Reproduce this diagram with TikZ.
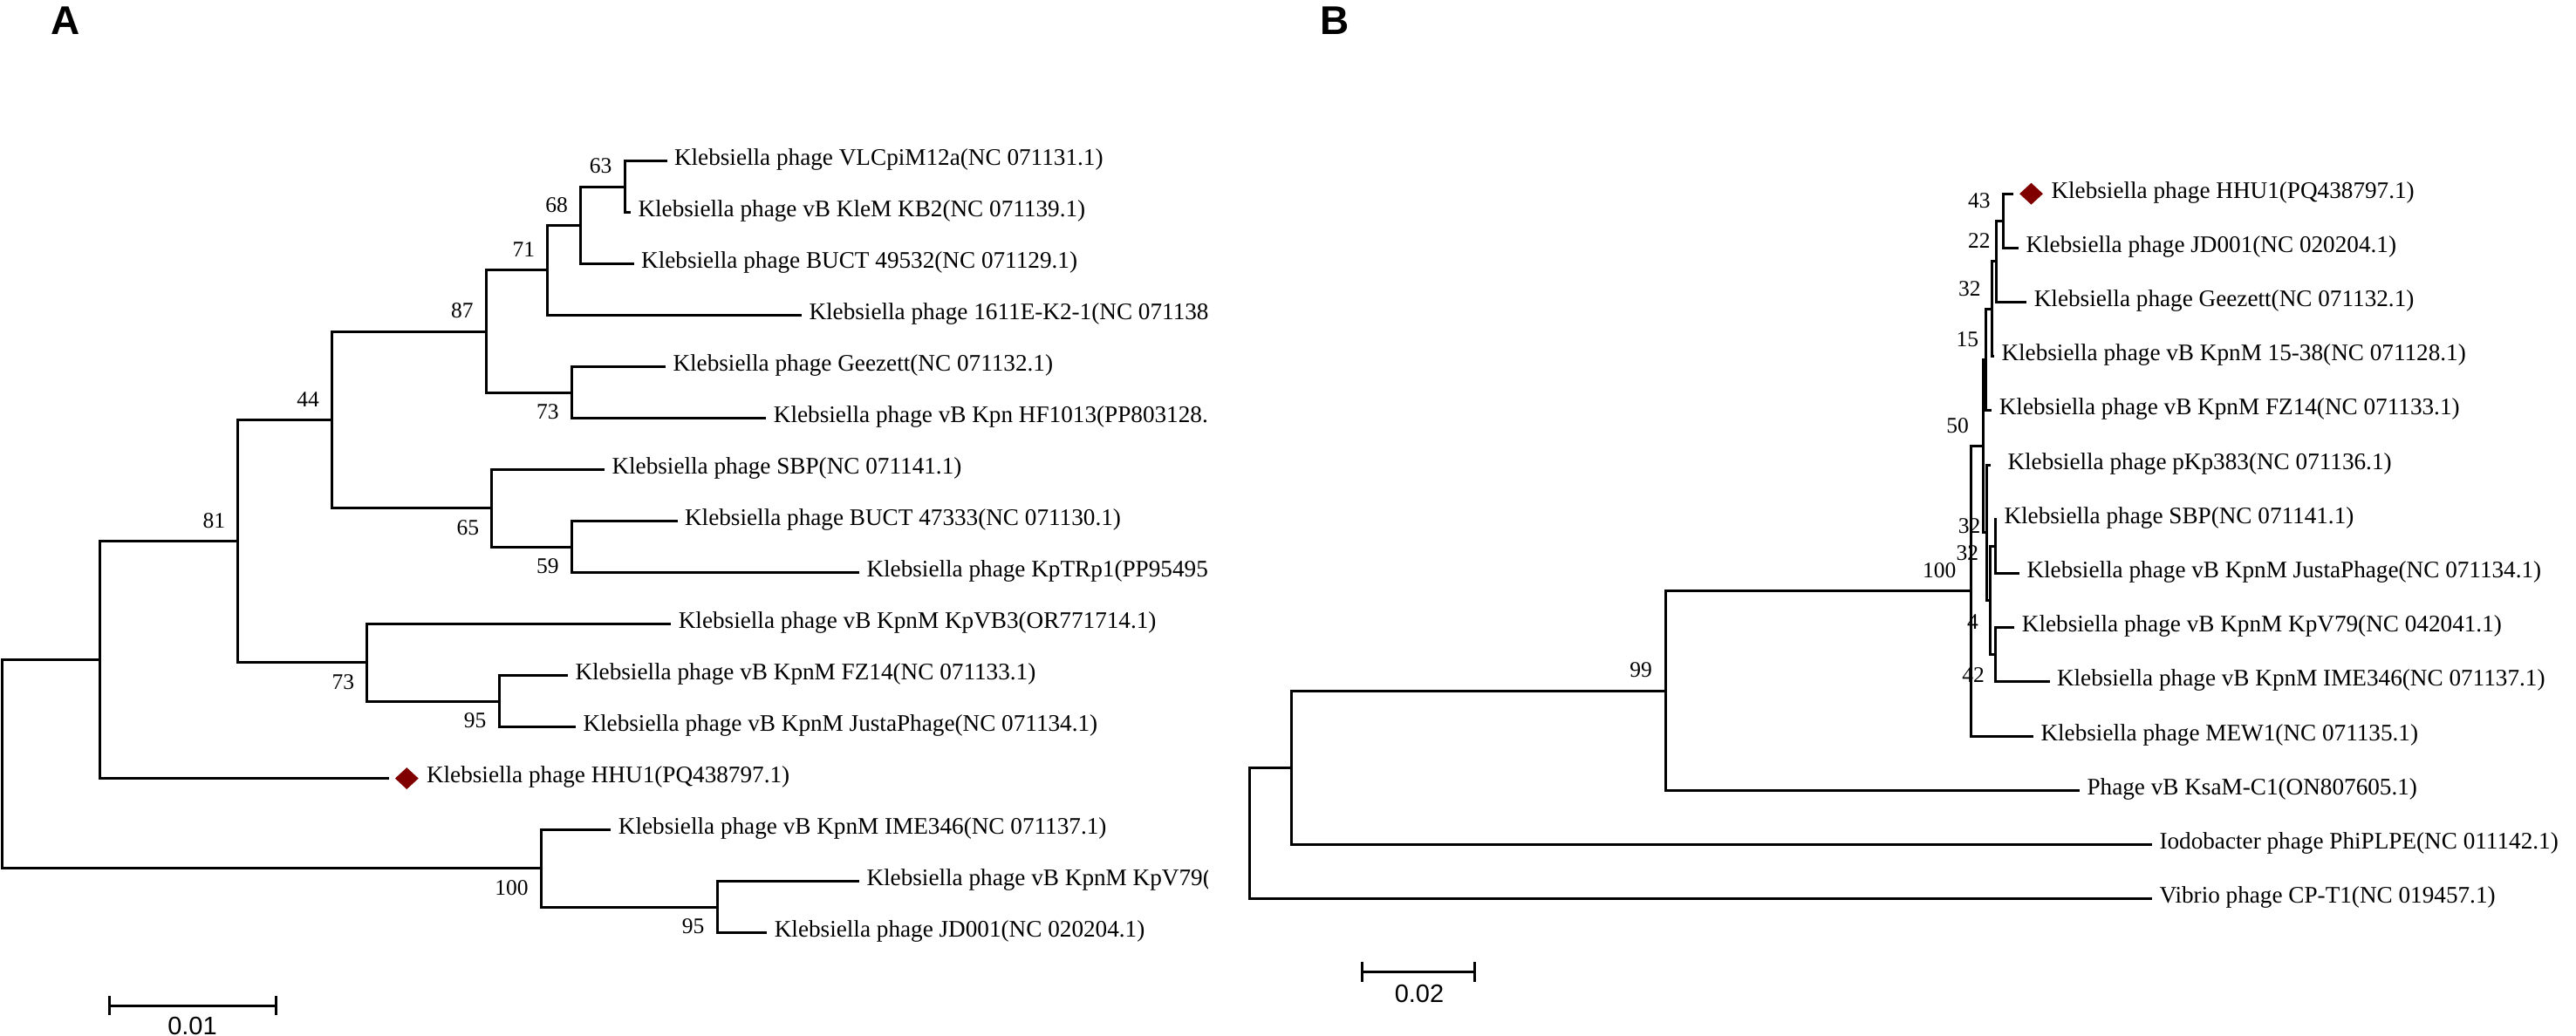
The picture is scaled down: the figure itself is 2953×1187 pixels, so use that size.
\documentclass[tikz,border=0pt]{standalone}
\usepackage{fontspec}
\setmainfont{Liberation Serif}
\newfontfamily\sansf{Liberation Sans}
\usetikzlibrary{shapes.geometric}
\definecolor{hhured}{RGB}{128,0,0}
\newcommand{\clade}[3]{\draw[br] (#2) -| (#1) |- (#3);}
\tikzset{
  br/.style={line width=3pt, line join=miter, line cap=butt},
  leaf/.style={anchor=base west, inner sep=0pt, xshift=8.3pt, yshift=-5pt, font=\fontsize{27.2}{30}\selectfont},
  boot/.style={anchor=east, inner sep=0pt, font=\fontsize{25.5}{28}\selectfont},
  bu/.style={boot, xshift=-14.5pt, yshift=23.5pt},
  bd/.style={boot, xshift=-14.5pt, yshift=-22.5pt},
  panel/.style={inner sep=0pt, font=\sansf\bfseries\fontsize{46}{50}\selectfont},
  scl/.style={inner sep=0pt, font=\sansf\fontsize{29}{32}\selectfont},
  hhu/.style={diamond, fill=hhured, inner sep=0pt, minimum width=27pt, minimum height=25pt},
}
\begin{document}
\begin{tikzpicture}[x=1pt,y=-1pt]
\useasboundingbox (0,0) rectangle (2953,1187);
% ---------------- Panel A ----------------
\node[panel] (labA) at (75,23.5) {A};
\coordinate (a0) at (764.5,184.6);
\coordinate (a1) at (723,243.6);
\coordinate (a2) at (726.7,302.6);
\coordinate (a3) at (919,361.6);
\coordinate (a4) at (763,420.6);
\coordinate (a5) at (878.4,479.6);
\coordinate (a6) at (693,538.6);
\coordinate (a7) at (776.6,597.6);
\coordinate (a8) at (985,656.6);
\coordinate (a9) at (769.3,715.6);
\coordinate (a10) at (651,774.6);
\coordinate (a11) at (660,833.6);
\coordinate (a12) at (446,892.6);
\coordinate (a13) at (700.4,951.6);
\coordinate (a14) at (985,1010.6);
\coordinate (a15) at (879.3,1069.6);
\coordinate (A63) at (716,214.1);
\coordinate (A68) at (665.5,258.35);
\coordinate (A71) at (627.7,309.98);
\coordinate (A73a) at (655.3,450.1);
\coordinate (A87) at (557.4,380.04);
\coordinate (A59) at (655.3,627.1);
\coordinate (A65) at (563.7,582.85);
\coordinate (A44) at (380.5,481.45);
\coordinate (A95a) at (572,804.1);
\coordinate (A73b) at (420.7,759.85);
\coordinate (A81) at (272.9,620.65);
\coordinate (Ain) at (114.9,756.6);
\coordinate (A95b) at (822,1040.1);
\coordinate (A100) at (620.4,995.85);
\coordinate (Aroot) at (2.5,876.2);
\clade{A63}{a0}{a1}
\clade{A68}{A63}{a2}
\clade{A71}{A68}{a3}
\clade{A73a}{a4}{a5}
\clade{A87}{A71}{A73a}
\clade{A59}{a7}{a8}
\clade{A65}{a6}{A59}
\clade{A44}{A87}{A65}
\clade{A95a}{a10}{a11}
\clade{A73b}{a9}{A95a}
\clade{A81}{A44}{A73b}
\clade{Ain}{A81}{a12}
\clade{A95b}{a14}{a15}
\clade{A100}{a13}{A95b}
\clade{Aroot}{Ain}{A100}
\node[bu] (bA63) at (A63) {63};
\node[bu] (bA68) at (A68) {68};
\node[bu] (bA71) at (A71) {71};
\node[bu] (bA87) at (A87) {87};
\node[bd] (bA73a) at (A73a) {73};
\node[bu] (bA44) at (A44) {44};
\node[bd] (bA65) at (A65) {65};
\node[bd] (bA59) at (A59) {59};
\node[bu] (bA81) at (A81) {81};
\node[bd] (bA73b) at (A73b) {73};
\node[bd] (bA95a) at (A95a) {95};
\node[bd] (bA100) at (A100) {100};
\node[bd] (bA95b) at (A95b) {95};
\node[hhu] (dA) at (466.3,892.6) {};
\begin{scope}
\clip (0,0) rectangle (1384,1187);
\node[leaf] (ta0) at (a0) {Klebsiella phage VLCpiM12a(NC 071131.1)};
\node[leaf] (ta1) at (a1) {Klebsiella phage vB KleM KB2(NC 071139.1)};
\node[leaf] (ta2) at (a2) {Klebsiella phage BUCT 49532(NC 071129.1)};
\node[leaf] (ta3) at (a3) {Klebsiella phage 1611E-K2-1(NC 071138};
\node[leaf] (ta4) at (a4) {Klebsiella phage Geezett(NC 071132.1)};
\node[leaf] (ta5) at (a5) {Klebsiella phage vB Kpn HF1013(PP803128.};
\node[leaf] (ta6) at (a6) {Klebsiella phage SBP(NC 071141.1)};
\node[leaf] (ta7) at (a7) {Klebsiella phage BUCT 47333(NC 071130.1)};
\node[leaf] (ta8) at (a8) {Klebsiella phage KpTRp1(PP95495};
\node[leaf] (ta9) at (a9) {Klebsiella phage vB KpnM KpVB3(OR771714.1)};
\node[leaf] (ta10) at (a10) {Klebsiella phage vB KpnM FZ14(NC 071133.1)};
\node[leaf] (ta11) at (a11) {Klebsiella phage vB KpnM JustaPhage(NC 071134.1)};
\node[leaf, xshift=34.5pt] (ta12) at (a12) {Klebsiella phage HHU1(PQ438797.1)};
\node[leaf] (ta13) at (a13) {Klebsiella phage vB KpnM IME346(NC 071137.1)};
\node[leaf] (ta14) at (a14) {Klebsiella phage vB KpnM KpV79(};
\node[leaf] (ta15) at (a15) {Klebsiella phage JD001(NC 020204.1)};
\end{scope}
\coordinate (sa1) at (125,1153);
\coordinate (sa2) at (316,1153);
\draw[br] (sa1) -- (sa2);
\draw[br] ([yshift=11pt]sa1) -- ([yshift=-11pt]sa1);
\draw[br] ([yshift=11pt]sa2) -- ([yshift=-11pt]sa2);
\node[scl] (sla) at (220.5,1176) {0.01};
% ---------------- Panel B ----------------
\node[panel] (labB) at (1530,23.5) {B};
\coordinate (b0) at (2308.3,222.2);
\coordinate (b1) at (2314,284.4);
\coordinate (b2) at (2323.3,346.6);
\coordinate (b3) at (2286,408.7);
\coordinate (b4) at (2283.3,470.9);
\coordinate (b5) at (2281.7,533.1);
\coordinate (b6) at (2289,595.3);
\coordinate (b7) at (2315,657.5);
\coordinate (b8) at (2309.4,719.6);
\coordinate (b9) at (2349.5,781.8);
\coordinate (b10) at (2331,844.0);
\coordinate (b11) at (2384,906.2);
\coordinate (b12) at (2467,968.4);
\coordinate (b13) at (2467,1030.5);
\coordinate (B43) at (2296.3,253.3);
\coordinate (B22) at (2288.3,299.95);
\coordinate (B32a) at (2283.5,354.3);
\coordinate (B15) at (2276.5,412.6);
\coordinate (B32s) at (2287.5,626.4);
\coordinate (B42) at (2287.3,750.7);
\coordinate (B4) at (2281,688.55);
\coordinate (B32L) at (2277.5,610.8);
\coordinate (B50) at (2273,511.7);
\coordinate (B100) at (2259.3,677.85);
\coordinate (B99) at (1909.2,792.0);
\coordinate (Bn) at (1480.6,880.2);
\coordinate (Broot) at (1432,955.35);
\clade{B43}{b0}{b1}
\clade{B22}{B43}{b2}
\clade{B32a}{B22}{b3}
\clade{B15}{B32a}{b4}
\clade{B32s}{b6}{b7}
\clade{B42}{b8}{b9}
\clade{B4}{B32s}{B42}
\clade{B32L}{b5}{B4}
\clade{B50}{B15}{B32L}
\clade{B100}{B50}{b10}
\clade{B99}{B100}{b11}
\clade{Bn}{B99}{b12}
\clade{Broot}{Bn}{b13}
\node[boot] (bB43) at (2281.7,229.8) {43};
\node[boot] (bB22) at (2281.7,276.5) {22};
\node[boot] (bB32a) at (2270.7,331) {32};
\node[boot] (bB15) at (2268.3,389) {15};
\node[boot] (bB50) at (2257,488.2) {50};
\node[boot] (bB32s) at (2270.5,603) {32};
\node[boot] (bB32L) at (2268.3,634.5) {32};
\node[boot] (bB100) at (2242.5,653.8) {100};
\node[boot] (bB4) at (2268,713) {4};
\node[boot] (bB42) at (2275,774) {42};
\node[boot] (bB99) at (1894,768) {99};
\node[hhu] (dB) at (2328.5,222.2) {};
\node[leaf, xshift=34.7pt] (tb0) at (b0) {Klebsiella phage HHU1(PQ438797.1)};
\node[leaf] (tb1) at (b1) {Klebsiella phage JD001(NC 020204.1)};
\node[leaf] (tb2) at (b2) {Klebsiella phage Geezett(NC 071132.1)};
\node[leaf] (tb3) at (b3) {Klebsiella phage vB KpnM 15-38(NC 071128.1)};
\node[leaf] (tb4) at (b4) {Klebsiella phage vB KpnM FZ14(NC 071133.1)};
\node[leaf, xshift=11.3pt] (tb5) at (b5) {Klebsiella phage pKp383(NC 071136.1)};
\node[leaf] (tb6) at (b6) {Klebsiella phage SBP(NC 071141.1)};
\node[leaf] (tb7) at (b7) {Klebsiella phage vB KpnM JustaPhage(NC 071134.1)};
\node[leaf] (tb8) at (b8) {Klebsiella phage vB KpnM KpV79(NC 042041.1)};
\node[leaf] (tb9) at (b9) {Klebsiella phage vB KpnM IME346(NC 071137.1)};
\node[leaf] (tb10) at (b10) {Klebsiella phage MEW1(NC 071135.1)};
\node[leaf] (tb11) at (b11) {Phage vB KsaM-C1(ON807605.1)};
\node[leaf] (tb12) at (b12) {Iodobacter phage PhiPLPE(NC 011142.1)};
\node[leaf] (tb13) at (b13) {Vibrio phage CP-T1(NC 019457.1)};
\coordinate (sb1) at (1561.7,1114.6);
\coordinate (sb2) at (1690.8,1114.6);
\draw[br] (sb1) -- (sb2);
\draw[br] ([yshift=11.7pt]sb1) -- ([yshift=-11.7pt]sb1);
\draw[br] ([yshift=11.7pt]sb2) -- ([yshift=-11.7pt]sb2);
\node[scl] (slb) at (1627,1139.5) {0.02};
\end{tikzpicture}
\end{document}
